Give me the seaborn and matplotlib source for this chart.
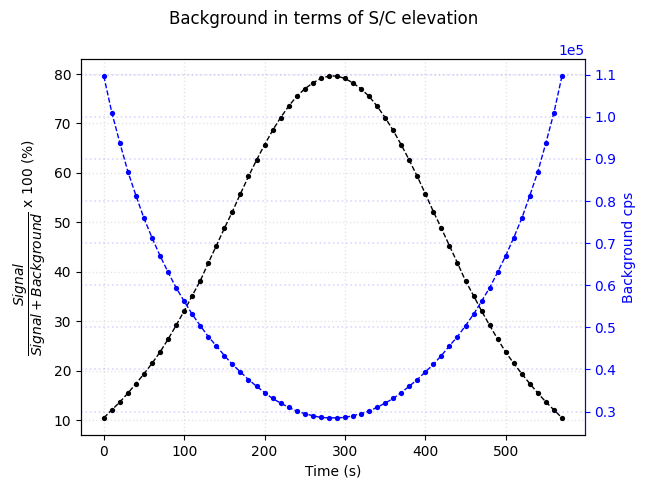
import matplotlib
matplotlib.use("Agg")
import matplotlib.pyplot as plt
import seaborn as sns
import numpy as np
import pandas as pd

time_s = list(range(0, 580, 10))

signal_pct = [10.5, 12.1, 13.7, 15.5, 17.4, 19.4, 21.5, 23.8, 26.4, 29.2,
              32.1, 35.2, 38.2, 41.8, 45.3, 48.8, 52.2, 55.8, 59.3, 62.6,
              65.7, 68.6, 71.2, 73.5, 75.5, 77.0, 78.2, 79.1, 79.6, 79.6,
              79.1, 78.2, 77.0, 75.5, 73.5, 71.2, 68.6, 65.7, 62.6, 59.3,
              55.8, 52.2, 48.8, 45.3, 41.8, 38.2, 35.2, 32.1, 29.2, 26.4,
              23.8, 21.5, 19.4, 17.4, 15.5, 13.7, 12.1, 10.5]

background_cps = [109700, 101000, 93800, 87000, 81300, 75900, 71300, 67000, 63100, 59400,
                  56200, 53100, 50400, 47800, 45600, 43300, 41200, 39400, 37600, 36000,
                  34500, 33100, 32000, 31000, 30100, 29500, 29000, 28600, 28500, 28500,
                  28600, 29000, 29500, 30100, 31000, 32000, 33100, 34500, 36000, 37600,
                  39400, 41200, 43300, 45600, 47800, 50400, 53100, 56200, 59400, 63100,
                  67000, 71300, 75900, 81300, 87000, 93800, 101000, 109700]

df = pd.DataFrame({"time": time_s, "signal": signal_pct, "background": background_cps})

fig = plt.figure(figsize=(6.47, 4.79), dpi=100)
ax = fig.add_axes([0.125, 0.092, 0.779, 0.785])

sns.lineplot(data=df, x="time", y="signal", ax=ax, color="black", linestyle="--",
             marker="o", markersize=3.8, markeredgewidth=0, linewidth=1)
ax.set_xlabel("Time (s)")
ax.set_ylabel(r"$\dfrac{Signal}{Signal + Background}$ x 100 (%)", fontsize=10)
ax.grid(True, linestyle=":", linewidth=1.0, color="grey", alpha=0.2)

ax2 = ax.twinx()
sns.lineplot(data=df, x="time", y="background", ax=ax2, color="blue", linestyle="--",
             marker="o", markersize=3.8, markeredgewidth=0, linewidth=1)
ax2.set_ylabel("Background cps", color="blue")
ax2.ticklabel_format(axis="y", style="sci", scilimits=(0, 0))
ax2.yaxis.get_offset_text().set_color("blue")
ax2.tick_params(axis="y", colors="blue")
ax2.spines["right"].set_color("blue")
ax2.grid(True, axis="y", linestyle=":", linewidth=1.2, color="blue", alpha=0.15)

fig.suptitle("Background in terms of S/C elevation")

fig.savefig("out.png", dpi=100)
